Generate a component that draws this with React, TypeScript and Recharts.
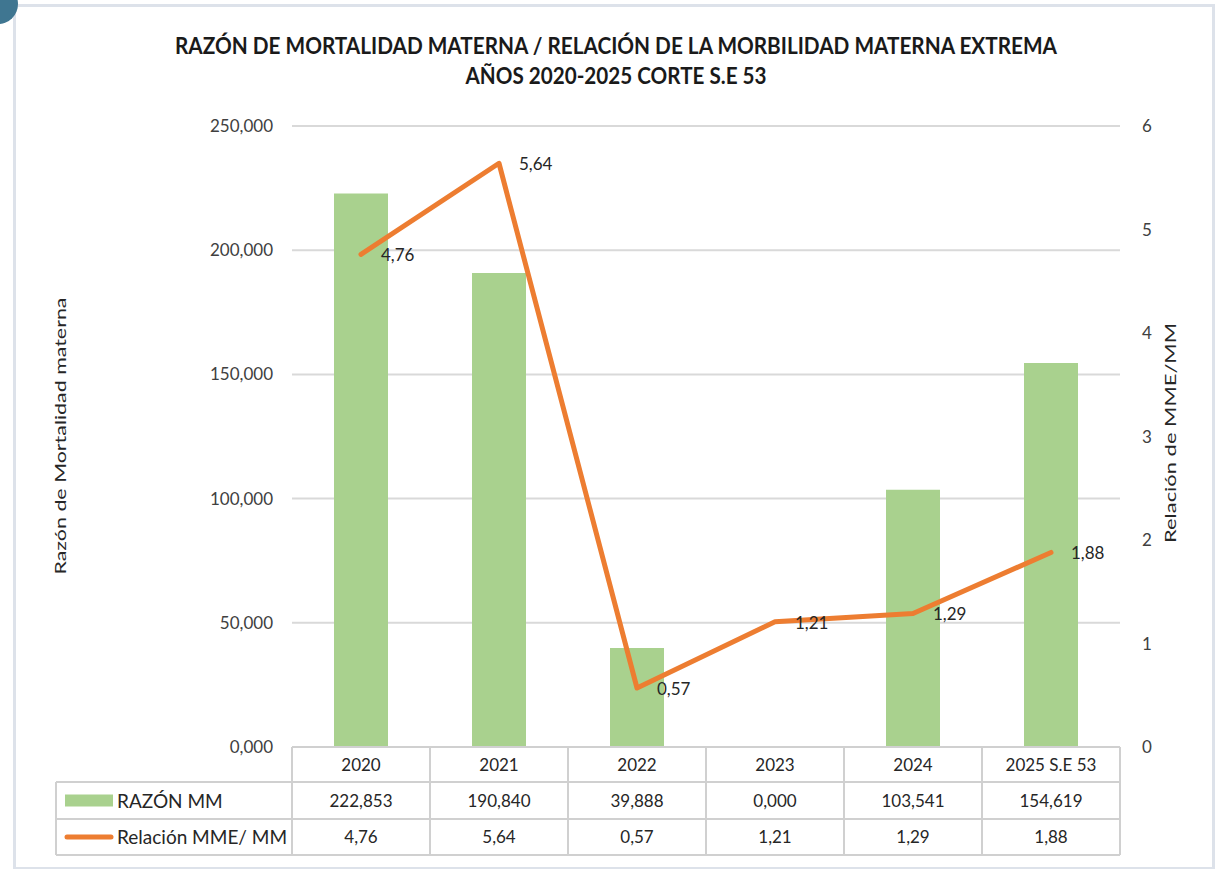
import React from "react";
import {
  ComposedChart,
  Bar,
  Line,
  XAxis,
  YAxis,
  CartesianGrid,
  LabelList,
} from "recharts";

// ---------- data ----------
const categories = ["2020", "2021", "2022", "2023", "2024", "2025 S.E 53"];
const razonMM = [222.853, 190.84, 39.888, 0.0, 103.541, 154.619];
const relacionMME = [4.76, 5.64, 0.57, 1.21, 1.29, 1.88];
const leftTicks = [0, 50, 100, 150, 200, 250];
const rightTicks = [0, 1, 2, 3, 4, 5, 6];
const seriesNames = ["RAZÓN MM", "Relación MME/ MM"];
const titleLines = [
  "RAZÓN DE MORTALIDAD MATERNA / RELACIÓN DE LA MORBILIDAD MATERNA EXTREMA",
  "AÑOS 2020-2025 CORTE S.E 53",
];
const leftAxisTitle = "Razón de Mortalidad materna";
const rightAxisTitle = "Relación de MME/MM";

const data = categories.map((c, i) => ({
  cat: c,
  razon: razonMM[i],
  rel: relacionMME[i],
}));

// ---------- layout ----------
const W = 1217;
const H = 869;
const MARGIN = { top: 126, right: 0, bottom: 14, left: 0 };
const LEFT_AXIS_W = 292;
const RIGHT_AXIS_W = 97;
const XAXIS_H = 108;
const PLOT_LEFT = MARGIN.left + LEFT_AXIS_W;
const PLOT_RIGHT = W - MARGIN.right - RIGHT_AXIS_W;
const PLOT_BOTTOM = H - MARGIN.bottom - XAXIS_H;
const BAND = (PLOT_RIGHT - PLOT_LEFT) / categories.length;
const ROW1 = PLOT_BOTTOM + 35;
const ROW2 = PLOT_BOTTOM + 72;
const ROW3 = PLOT_BOTTOM + 108;
const TABLE_LEFT = 56;

const GREEN = "#A9D18E";
const ORANGE = "#ED7D31";
const GRID = "#d9d9d9";
const TABLE_LINE = "#d0d0d0";
const FONT = "Lato, 'Open Sans', sans-serif";
const TEXT = "#262626";

const fmt3 = (v: number) => v.toFixed(3).replace(".", ",");
const fmt2 = (v: number) => v.toFixed(2).replace(".", ",");

const TableTick = (props: any) => {
  const { x, index } = props;
  const cx = x;
  const textStyle = { fontFamily: FONT, fontSize: 17, fill: TEXT };
  const legendStyle = { fontFamily: FONT, fontSize: 19, fill: TEXT };
  return (
    <g>
      {index === 0 && (
        <g>
          <line x1={PLOT_LEFT} x2={PLOT_RIGHT} y1={PLOT_BOTTOM} y2={PLOT_BOTTOM} stroke={TABLE_LINE} strokeWidth={2} />
          <line x1={TABLE_LEFT} x2={PLOT_RIGHT} y1={ROW1} y2={ROW1} stroke={TABLE_LINE} strokeWidth={2} />
          <line x1={TABLE_LEFT} x2={PLOT_RIGHT} y1={ROW2} y2={ROW2} stroke={TABLE_LINE} strokeWidth={2} />
          <line x1={TABLE_LEFT} x2={PLOT_RIGHT} y1={ROW3} y2={ROW3} stroke={TABLE_LINE} strokeWidth={2} />
          <line x1={TABLE_LEFT} x2={TABLE_LEFT} y1={ROW1} y2={ROW3} stroke={TABLE_LINE} strokeWidth={2} />
          {categories.map((_, i) => (
            <line
              key={i}
              x1={PLOT_LEFT + BAND * i}
              x2={PLOT_LEFT + BAND * i}
              y1={PLOT_BOTTOM}
              y2={ROW3}
              stroke={TABLE_LINE}
              strokeWidth={2}
            />
          ))}
          <line x1={PLOT_RIGHT} x2={PLOT_RIGHT} y1={PLOT_BOTTOM} y2={ROW3} stroke={TABLE_LINE} strokeWidth={2} />
          <rect x={65} y={(ROW1 + ROW2) / 2 - 6} width={48} height={12} fill={GREEN} />
          <line
            x1={67}
            x2={111}
            y1={(ROW2 + ROW3) / 2}
            y2={(ROW2 + ROW3) / 2}
            stroke={ORANGE}
            strokeWidth={5}
            strokeLinecap="round"
          />
          <text x={117} y={(ROW1 + ROW2) / 2 + 7} {...legendStyle}>
            {seriesNames[0]}
          </text>
          <text x={117} y={(ROW2 + ROW3) / 2 + 7} {...legendStyle}>
            {seriesNames[1]}
          </text>
        </g>
      )}
      <text x={cx} y={(PLOT_BOTTOM + ROW1) / 2 + 6} textAnchor="middle" {...textStyle}>
        {categories[index]}
      </text>
      <text x={cx} y={(ROW1 + ROW2) / 2 + 6} textAnchor="middle" {...textStyle}>
        {fmt3(razonMM[index])}
      </text>
      <text x={cx} y={(ROW2 + ROW3) / 2 + 6} textAnchor="middle" {...textStyle}>
        {fmt2(relacionMME[index])}
      </text>
    </g>
  );
};

const LineLabel = (props: any) => {
  const { x, y, value } = props;
  return (
    <text x={x + 20} y={y + 7} fontFamily={FONT} fontSize={17} fill={TEXT}>
      {fmt2(value)}
    </text>
  );
};

export default function App() {
  return (
    <div
      style={{
        position: "absolute",
        left: 0,
        top: 0,
        width: W,
        height: H,
        background: "#ffffff",
        overflow: "hidden",
      }}
    >
      <div
        style={{
          position: "absolute",
          left: 13,
          top: 4,
          width: 1196,
          height: 860,
          border: "3px solid #dde2ea",
        }}
      />
      <div
        style={{
          position: "absolute",
          left: -22,
          top: -16,
          width: 40,
          height: 40,
          borderRadius: "50%",
          background: "#3f7691",
        }}
      />
      <div style={{ position: "absolute", left: 0, top: 0 }}>
        <ComposedChart width={W} height={H} data={data} margin={MARGIN}>
          <text
            x={616}
            y={54}
            textAnchor="middle"
            fontFamily={FONT}
            fontWeight={700}
            fontSize={23}
            fill="#1a1a1a"
            textLength={882}
            lengthAdjust="spacingAndGlyphs"
          >
            {titleLines[0]}
          </text>
          <text
            x={616}
            y={84}
            textAnchor="middle"
            fontFamily={FONT}
            fontWeight={700}
            fontSize={23}
            fill="#1a1a1a"
            textLength={301}
            lengthAdjust="spacingAndGlyphs"
          >
            {titleLines[1]}
          </text>
          <text
            x={66}
            y={436}
            transform="rotate(-90 66 436)"
            textAnchor="middle"
            fontFamily={FONT}
            fontSize={16}
            fill={TEXT}
            textLength={277}
            lengthAdjust="spacingAndGlyphs"
          >
            {leftAxisTitle}
          </text>
          <text
            x={1176}
            y={433}
            transform="rotate(-90 1176 433)"
            textAnchor="middle"
            fontFamily={FONT}
            fontSize={16}
            fill={TEXT}
            textLength={220}
            lengthAdjust="spacingAndGlyphs"
          >
            {rightAxisTitle}
          </text>
          <CartesianGrid yAxisId="left" vertical={false} stroke={GRID} strokeWidth={2} />
          <XAxis
            dataKey="cat"
            height={XAXIS_H}
            axisLine={false}
            tickLine={false}
            tickSize={0}
            tickMargin={0}
            interval={0}
            tick={<TableTick />}
          />
          <YAxis
            yAxisId="left"
            width={LEFT_AXIS_W}
            domain={[0, 250]}
            ticks={leftTicks}
            tickFormatter={fmt3}
            axisLine={false}
            tickLine={false}
            tickSize={0}
            tickMargin={19}
            tick={{ fontFamily: FONT, fontSize: 17, fill: "#404040" }}
          />
          <YAxis
            yAxisId="right"
            orientation="right"
            width={RIGHT_AXIS_W}
            domain={[0, 6]}
            ticks={rightTicks}
            axisLine={false}
            tickLine={false}
            tickSize={0}
            tickMargin={22}
            tick={{ fontFamily: FONT, fontSize: 17, fill: "#404040" }}
          />
          <Bar
            yAxisId="left"
            dataKey="razon"
            fill={GREEN}
            barSize={54}
            isAnimationActive={false}
          />
          <Line
            yAxisId="right"
            dataKey="rel"
            stroke={ORANGE}
            strokeWidth={5}
            dot={false}
            activeDot={false}
            strokeLinecap="round"
            strokeLinejoin="round"
            isAnimationActive={false}
          >
            <LabelList dataKey="rel" content={<LineLabel />} />
          </Line>
        </ComposedChart>
      </div>
    </div>
  );
}
